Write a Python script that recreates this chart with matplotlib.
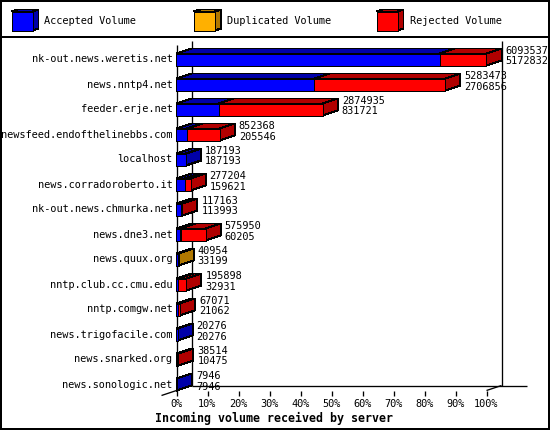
import matplotlib
matplotlib.use('Agg')
import matplotlib.pyplot as plt
from matplotlib.patches import Polygon, Rectangle

# data
hosts = ['nk-out.news.weretis.net', 'news.nntp4.net', 'feeder.erje.net',
         'newsfeed.endofthelinebbs.com', 'localhost', 'news.corradoroberto.it',
         'nk-out.news.chmurka.net', 'news.dne3.net', 'news.quux.org',
         'nntp.club.cc.cmu.edu', 'nntp.comgw.net', 'news.trigofacile.com',
         'news.snarked.org', 'news.sonologic.net']
total = [6093537, 5283473, 2874935, 852368, 187193, 277204, 117163,
         575950, 40954, 195898, 67071, 20276, 38514, 7946]
accepted = [5172832, 2706856, 831721, 205546, 187193, 159621, 113993,
            60205, 33199, 32931, 21062, 20276, 10475, 7946]
duplicated = [0, 0, 0, 0, 0, 0, 0, 20000, 7755, 0, 0, 0, 0, 0]
rejected = [t - a - d for t, a, d in zip(total, accepted, duplicated)]

series = ['Accepted Volume', 'Duplicated Volume', 'Rejected Volume']
front_colors = ['#0000ff', '#ffb000', '#ff0000']
dark_colors = ['#0000a8', '#b07800', '#b00000']
ticks = list(range(0, 101, 10))

FONT = 'DejaVu Sans Mono'
FS = 7.4
W, H = 550, 430
LW = 0.72

# layout in pixels (half-pixel offsets put 1px lines on pixel centres)
X0_PX, X100_PX = 176.5, 486.5
ROW0_PX, ROW_PX = 59.5, 25
px_per_pct = (X100_PX - X0_PX) / 100.0
DX = 15 / px_per_pct          # depth, in percent units
DY = 5 / ROW_PX               # depth, in row units
HALF = 6 / ROW_PX             # half bar height
n = len(hosts)
FLOOR_PX = ROW0_PX + (n - 1) * ROW_PX + 6
TOP_PX = 44.5

fig = plt.figure(figsize=(W / 100, H / 100), dpi=100)

# frame, legend and back walls (pixel coordinates, drawn first)
frame = fig.add_axes([0, 0, 1, 1])
frame.set_xlim(0, W)
frame.set_ylim(H, 0)
frame.axis('off')
frame.add_patch(Rectangle((1, 1), W - 2, H - 2, fill=False,
                          edgecolor='black', linewidth=1.44, antialiased=False))
frame.plot([0, W], [36.5, 36.5], color='black', linewidth=1.1, antialiased=False)
for i, name in enumerate(series):
    cx = 11.5 + 182.5 * i
    fx0, fx1, fy0, fy1, d, dd = cx, cx + 21, 11.5, 30.5, 6, 2
    frame.add_patch(Polygon([(fx0, fy0), (fx1, fy0), (fx1 + d, fy0 - dd), (fx0 + d, fy0 - dd)],
                            facecolor=dark_colors[i], edgecolor='black', linewidth=LW, antialiased=False))
    frame.add_patch(Polygon([(fx1, fy0), (fx1 + d, fy0 - dd), (fx1 + d, fy1 - dd), (fx1, fy1)],
                            facecolor=dark_colors[i], edgecolor='black', linewidth=LW, antialiased=False))
    frame.add_patch(Rectangle((fx0, fy0), fx1 - fx0, fy1 - fy0,
                              facecolor=front_colors[i], edgecolor='black', linewidth=LW, antialiased=False))
    frame.text(cx + 33, 20.5, name, fontsize=FS, family=FONT, va='center', ha='left')

line_kw = dict(color='black', linewidth=0.95, antialiased=True, solid_capstyle='butt')
frame.plot([X0_PX, X0_PX], [TOP_PX, FLOOR_PX], **line_kw)
frame.plot([X0_PX + 15, X0_PX + 15], [TOP_PX - 4, FLOOR_PX - 5], **line_kw)
frame.plot([X100_PX + 15, X100_PX + 15], [TOP_PX - 4, FLOOR_PX - 5], **line_kw)

# chart axes in data units (percent of largest total, row index)
ax = fig.add_axes([0, 0, 1, 1])
ax.patch.set_alpha(0)
ax.axis('off')
ax.set_xlim(-X0_PX / px_per_pct, (W - X0_PX) / px_per_pct)
ax.set_ylim((H - ROW0_PX) / ROW_PX, -ROW0_PX / ROW_PX)

scale = 100.0 / max(total)
floor = n - 1 + HALF

for t in ticks:
    ax.text(t, floor + 0.53, f'{t}%', fontsize=FS, family=FONT, ha='center', va='center')
ax.text(31.6, floor + 1.1, 'Incoming volume received by server', fontsize=8.35,
        family=FONT, weight='bold', ha='center', va='center')


def box(y, x0, x1, k, z):
    top = [(x0, y - HALF), (x1, y - HALF), (x1 + DX, y - HALF - DY), (x0 + DX, y - HALF - DY)]
    side = [(x1, y - HALF), (x1 + DX, y - HALF - DY), (x1 + DX, y + HALF - DY), (x1, y + HALF)]
    ax.add_patch(Polygon(top, facecolor=dark_colors[k], edgecolor='black',
                         linewidth=LW, antialiased=False, zorder=z))
    ax.add_patch(Polygon(side, facecolor=dark_colors[k], edgecolor='black',
                         linewidth=LW, antialiased=False, zorder=z))
    ax.barh(y, x1 - x0, left=x0, height=2 * HALF, color=front_colors[k],
            edgecolor='black', linewidth=LW, antialiased=False, zorder=z)


for i in range(n):
    left = 0.0
    z = 2
    for k, vals in enumerate([accepted, duplicated, rejected]):
        w = vals[i] * scale
        if w <= 0:
            continue
        box(i, left, left + w, k, z)
        left += w
        z += 1
    ax.text(-1.3, i, hosts[i], fontsize=FS, family=FONT, ha='right', va='center')
    lx = total[i] * scale + DX + 4 / px_per_pct
    ax.text(lx, i - 0.35, str(total[i]), fontsize=FS, family=FONT, ha='left', va='center', zorder=10)
    ax.text(lx, i + 0.08, str(accepted[i]), fontsize=FS, family=FONT, ha='left', va='center', zorder=10)

# floor and ticks on top (pixel coordinates)
over = fig.add_axes([0, 0, 1, 1])
over.patch.set_alpha(0)
over.set_xlim(0, W)
over.set_ylim(H, 0)
over.axis('off')
over.plot([X0_PX + 15, X100_PX + 40], [FLOOR_PX - 5, FLOOR_PX - 5], **line_kw)
over.plot([X0_PX - 15, X0_PX + 15], [FLOOR_PX + 5, FLOOR_PX - 5], **line_kw)
over.plot([X100_PX, X100_PX + 15], [FLOOR_PX, FLOOR_PX - 5], **line_kw)
for t in ticks:
    tx = X0_PX + t * px_per_pct
    over.plot([tx, tx], [FLOOR_PX, FLOOR_PX + 5], **line_kw)

fig.savefig('out.png', dpi=100)
